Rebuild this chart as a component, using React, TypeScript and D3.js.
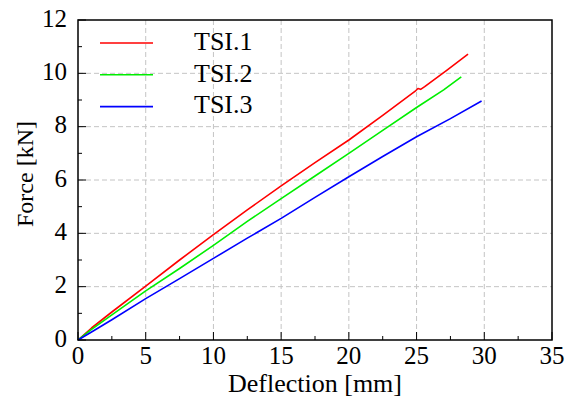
import React from "react";
import * as d3 from "d3";

const xTicks = [0, 5, 10, 15, 20, 25, 30, 35];
const yTicks = [0, 2, 4, 6, 8, 10, 12];
const xMinor = [2.5, 7.5, 12.5, 17.5, 22.5, 27.5, 32.5];
const yMinor = [1, 3, 5, 7, 9, 11];

const seriesNames = ["TSI.1", "TSI.2", "TSI.3"];
const seriesColors = ["#ff0000", "#00ee00", "#0000ff"];

const tsi1X = [0, 1, 2.5, 5, 7.5, 10, 12.5, 15, 17.5, 20, 22.5, 24.9, 25.1, 25.3, 25.6, 27.2, 28.8];
const tsi1Y = [0, 0.45, 1.05, 2.02, 3.0, 3.95, 4.88, 5.78, 6.65, 7.5, 8.42, 9.33, 9.43, 9.4, 9.5, 10.1, 10.72];
const tsi2X = [0, 1, 2.5, 5, 7.5, 10, 12.5, 15, 17.5, 20, 22.5, 25, 27, 28.3];
const tsi2Y = [0, 0.4, 0.94, 1.84, 2.68, 3.55, 4.45, 5.3, 6.15, 7.0, 7.86, 8.72, 9.38, 9.87];
const tsi3X = [0, 1, 2.5, 5, 7.5, 10, 12.5, 15, 17.5, 20, 22.5, 25, 27.5, 29.8];
const tsi3Y = [0, 0.3, 0.76, 1.55, 2.3, 3.06, 3.82, 4.56, 5.35, 6.12, 6.88, 7.62, 8.3, 8.96];

const seriesX = [tsi1X, tsi2X, tsi3X];
const seriesY = [tsi1Y, tsi2Y, tsi3Y];

const W = 567, H = 401;
const L = 78, R = 552, T = 20, B = 340;
const FONT = "'Liberation Serif', 'Times New Roman', serif";

export default function App() {
  const x = d3.scaleLinear().domain([0, 35]).range([L, R]);
  const y = d3.scaleLinear().domain([0, 12]).range([B, T]);
  const line = d3.line<[number, number]>().x(d => x(d[0])).y(d => y(d[1]));

  return (
    <svg width={W} height={H} style={{ position: "absolute", left: 0, top: 0, background: "#fff" }}>
      {xTicks.filter(v => v > 0 && v < 35).map(v => (
        <line key={"gx" + v} x1={x(v)} x2={x(v)} y1={T} y2={B} stroke="#c4c4c4" strokeWidth={1} strokeDasharray="5,3" />
      ))}
      {yTicks.filter(v => v > 0 && v < 12).map(v => (
        <line key={"gy" + v} x1={L} x2={R} y1={y(v)} y2={y(v)} stroke="#c4c4c4" strokeWidth={1} strokeDasharray="5,3" />
      ))}
      {xTicks.map(v => (
        <line key={"tx" + v} x1={x(v)} x2={x(v)} y1={B} y2={B - 8} stroke="#000" strokeWidth={1} />
      ))}
      {xMinor.map(v => (
        <line key={"mx" + v} x1={x(v)} x2={x(v)} y1={B} y2={B - 4} stroke="#000" strokeWidth={1} />
      ))}
      {yTicks.map(v => (
        <line key={"ty" + v} x1={L} x2={L + 8} y1={y(v)} y2={y(v)} stroke="#000" strokeWidth={1} />
      ))}
      {yMinor.map(v => (
        <line key={"my" + v} x1={L} x2={L + 4} y1={y(v)} y2={y(v)} stroke="#000" strokeWidth={1} />
      ))}
      {seriesNames.map((n, i) => (
        <path key={n} d={line(seriesX[i].map((xv, j) => [xv, seriesY[i][j]] as [number, number])) || ""}
          fill="none" stroke={seriesColors[i]} strokeWidth={1.6} strokeLinejoin="round" />
      ))}
      <rect x={L} y={T} width={R - L} height={B - T} fill="none" stroke="#000" strokeWidth={1.5} />
      {xTicks.map(v => (
        <text key={"lx" + v} x={x(v)} y={364} textAnchor="middle" fontFamily={FONT} fontSize={25} fill="#000">{v}</text>
      ))}
      {yTicks.map(v => (
        <text key={"ly" + v} x={67} y={y(v) + 6.5} textAnchor="end" fontFamily={FONT} fontSize={25} fill="#000">{v}</text>
      ))}
      <text x={x(17.5)} y={392} textAnchor="middle" fontFamily={FONT} fontSize={26} fill="#000">Deflection [mm]</text>
      <text transform={`translate(33,174) rotate(-90)`} textAnchor="middle" fontFamily={FONT} fontSize={24} fill="#000">Force [kN]</text>
      {seriesNames.map((n, i) => (
        <g key={"lg" + n}>
          <line x1={100} x2={153} y1={43 + i * 31.8} y2={43 + i * 31.8} stroke={seriesColors[i]} strokeWidth={1.6} />
          <text x={194} y={50 + i * 31.6} fontFamily={FONT} fontSize={26} fill="#000">{n}</text>
        </g>
      ))}
    </svg>
  );
}
